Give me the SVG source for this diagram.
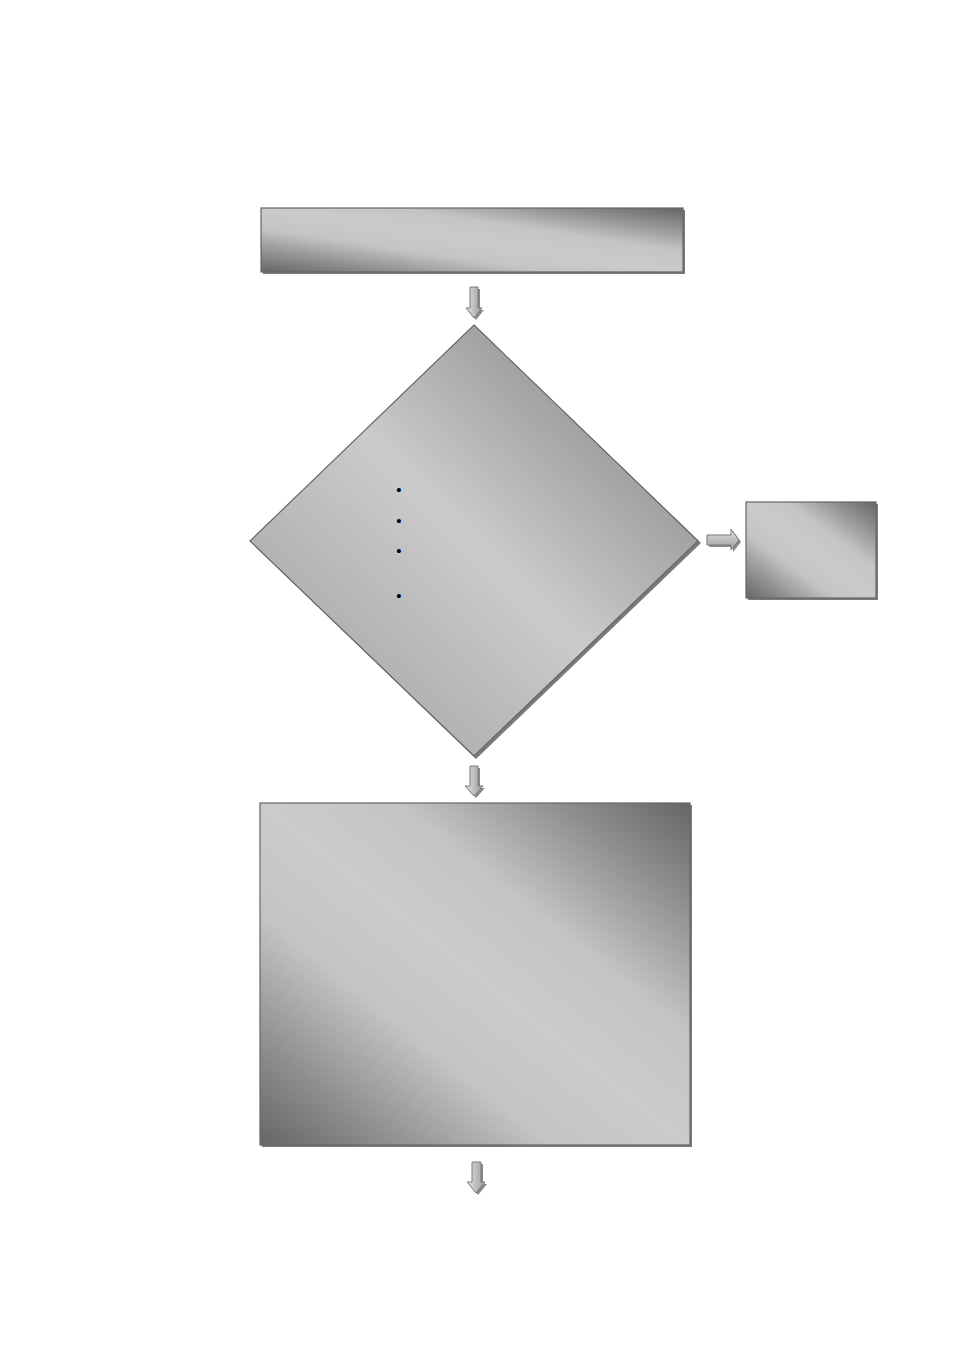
<svg xmlns="http://www.w3.org/2000/svg" width="954" height="1350" viewBox="0 0 954 1350">
<style>
.box{stroke:#666;stroke-width:1.2}
.shadow{fill:#7a7a7a}
.arrow{fill:url(#ga);stroke:#7a7a7a;stroke-width:1}
.ashadow{fill:#8a8a8a}
.bullet{font-family:"Liberation Sans",Arial,sans-serif;font-size:15px;fill:#000;text-anchor:middle}
</style>
<defs>
<linearGradient id="gr" x1="0" y1="1" x2="1" y2="0">
<stop offset="0" stop-color="#666"/>
<stop offset="0.15" stop-color="#8e8e8e"/>
<stop offset="0.34" stop-color="#c4c4c4"/>
<stop offset="0.5" stop-color="#cbcbcb"/>
<stop offset="0.66" stop-color="#c4c4c4"/>
<stop offset="0.85" stop-color="#8e8e8e"/>
<stop offset="1" stop-color="#666"/>
</linearGradient>
<linearGradient id="gd" x1="0" y1="1" x2="1" y2="0">
<stop offset="0" stop-color="#888"/>
<stop offset="0.25" stop-color="#b3b3b3"/>
<stop offset="0.5" stop-color="#cbcbcb"/>
<stop offset="0.75" stop-color="#a2a2a2"/>
<stop offset="1" stop-color="#888"/>
</linearGradient>
<linearGradient id="ga" x1="0" y1="0" x2="1" y2="0">
<stop offset="0" stop-color="#e4e4e4"/>
<stop offset="1" stop-color="#9a9a9a"/>
</linearGradient>
<linearGradient id="gah" x1="0" y1="0" x2="0" y2="1">
<stop offset="0" stop-color="#e4e4e4"/>
<stop offset="1" stop-color="#9a9a9a"/>
</linearGradient>
</defs>
<rect width="954" height="1350" fill="#fff"/>

<g id="node-top">
<rect class="shadow" x="263" y="210" width="422" height="64"/>
<rect class="box" x="261" y="208" width="422" height="64" fill="url(#gr)"/>
</g>

<g id="node-decision">
<polygon class="shadow" points="476,327 701,543 476,759 252,543"/>
<polygon class="box" points="474,325 698,541 474,756 250,541" fill="url(#gd)"/>
<text class="bullet" x="399" y="495">•</text>
<text class="bullet" x="399" y="526">•</text>
<text class="bullet" x="399" y="556">•</text>
<text class="bullet" x="399" y="601">•</text>
</g>

<g id="node-right">
<rect class="shadow" x="748" y="504" width="130" height="96"/>
<rect class="box" x="746" y="502" width="130" height="96" fill="url(#gr)"/>
</g>

<g id="node-bottom">
<rect class="shadow" x="262" y="805" width="430" height="342"/>
<rect class="box" x="260" y="803" width="430" height="342" fill="url(#gr)"/>
</g>

<g id="connectors">
<polygon class="ashadow" points="472,289 480,289 480,310 484,310 476,320 468,310 472,310"/>
<polygon class="arrow" points="470,287 478,287 478,308 482,308 474,318 466,308 470,308"/>
<polygon class="ashadow" points="472,768 480,768 480,788 485,788 476,798 467,788 472,788"/>
<polygon class="arrow" points="470,766 478,766 478,786 483,786 474,796 465,786 470,786"/>
<polygon class="ashadow" points="474,1164 483,1164 483,1184 487,1184 478,1195 469,1184 474,1184"/>
<polygon class="arrow" points="472,1162 481,1162 481,1182 485,1182 476,1193 467,1182 472,1182"/>
<polygon class="ashadow" points="709,537 733,537 733,531 741,542 733,552 733,547 709,547"/>
<polygon class="arrow" points="707,535 731,535 731,529 739,540 731,550 731,545 707,545" style="fill:url(#gah)"/>
</g>
</svg>
